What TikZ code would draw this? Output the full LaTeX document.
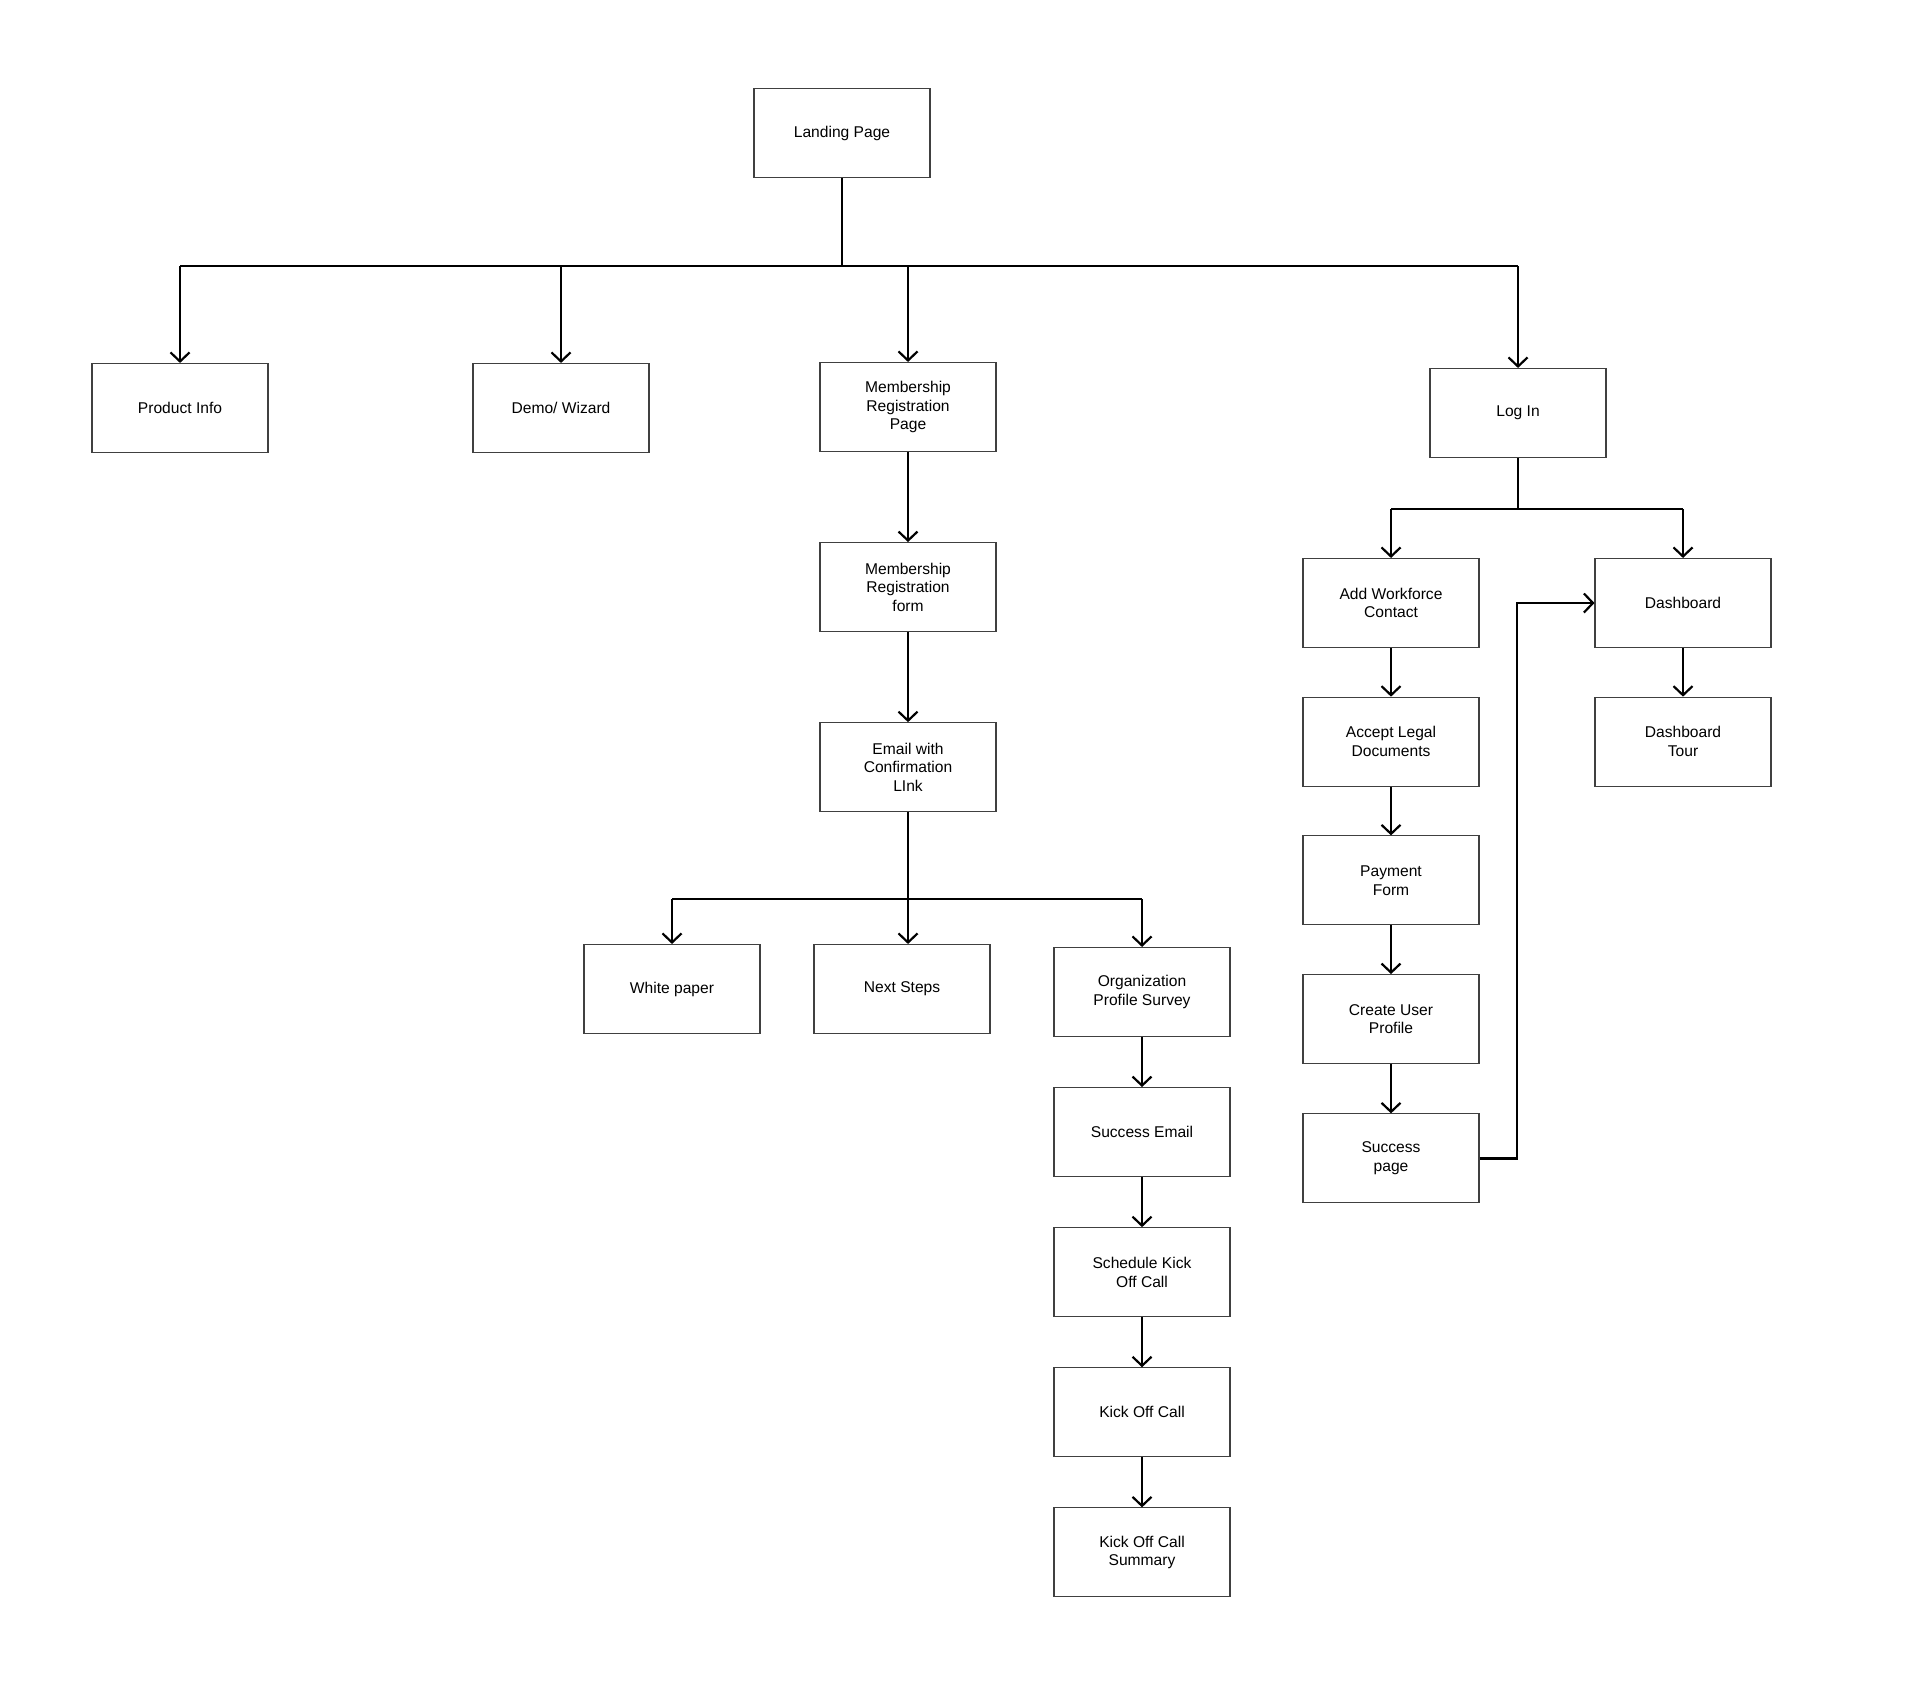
\documentclass[tikz,border=0pt]{standalone}
\usepackage{fontspec}
\setmainfont{Liberation Sans}
\usetikzlibrary{arrows.meta,positioning}

\begin{document}
\begin{tikzpicture}[
			x=0.5pt, y=-0.5pt,
			box/.style={rectangle,draw=black!75,line width=0.55pt,minimum width=88pt,minimum height=44.5pt,
				align=center,font=\fontsize{7.8}{9.3}\selectfont},
			link/.style={-{Straight Barb[length=4.5pt,width=9.5pt]},line width=1.1pt},
			bar/.style={line width=1.1pt},
			node distance=25pt,
			]
			\useasboundingbox (0,0) rectangle (1920,1693);
			% top level
			\node [box] (land) at (842,133) {Landing Page};
			\node [box] (prod) at (180,408) {Product Info};
			\node [box] (demo) at (561,408) {Demo/ Wizard};
			\node [box] (mpage) at (908,407) {Membership\\ Registration\\ Page};
			\node [box] (login) at (1518,413) {Log In};
			\coordinate (bl) at (180,266);
			\coordinate (br) at (1518,266);
			\draw [bar] (land) -- (land |- bl);
			\draw [bar] (bl) -- (br);
			\foreach \n in {prod,demo,mpage,login}
				\draw [link] (\n.north |- bl) -- (\n.north);
			% registration branch
			\node [box,below=45pt of mpage] (mform) {Membership\\ Registration\\ form};
			\node [box,below=45pt of mform] (email) {Email with\\ Confirmation\\ LInk};
			\draw [link] (mpage) -- (mform);
			\draw [link] (mform) -- (email);
			\node [box] (white) at (672,989) {White paper};
			\node [box] (next) at (902,989) {Next Steps};
			\node [box] (org) at (1142,992) {Organization\\ Profile Survey};
			\coordinate (eb) at (907,899);
			\draw [bar] (white.north |- eb) -- (org.north |- eb);
			\draw [link] (email) -- (email |- next.north);
			\foreach \n in {white,org}
				\draw [link] (\n.north |- eb) -- (\n.north);
			\node [box,below=of org] (semail) {Success Email};
			\node [box,below=of semail] (sched) {Schedule Kick\\ Off Call};
			\node [box,below=of sched] (kick) {Kick Off Call};
			\node [box,below=of kick] (summ) {Kick Off Call\\ Summary};
			\draw [link] (org) -- (semail);
			\draw [link] (semail) -- (sched);
			\draw [link] (sched) -- (kick);
			\draw [link] (kick) -- (summ);
			% log in branch
			\node [box] (addwf) at (1391,603) {Add Workforce\\ Contact};
			\node [box] (dash) at (1683,603) {Dashboard};
			\coordinate (lb) at (1518,509);
			\draw [bar] (login) -- (lb);
			\draw [bar] (addwf.north |- lb) -- (dash.north |- lb);
			\foreach \n in {addwf,dash}
				\draw [link] (\n.north |- lb) -- (\n.north);
			\node [box,below=24.3pt of addwf] (legal) {Accept Legal\\ Documents};
			\node [box,below=24.3pt of legal] (pay) {Payment\\ Form};
			\node [box,below=24.3pt of pay] (user) {Create User\\ Profile};
			\node [box,below=24.6pt of user] (succ) {Success\\ page};
			\node [box,below=24.3pt of dash] (tour) {Dashboard\\ Tour};
			\draw [link] (addwf) -- (legal);
			\draw [link] (legal) -- (pay);
			\draw [link] (pay) -- (user);
			\draw [link] (user) -- (succ);
			\draw [link] (dash) -- (tour);
			\coordinate (loop) at (1517,603);
			\draw [link] (succ.east) -| (loop) -- (dash.west);
		\end{tikzpicture}
\end{document}
